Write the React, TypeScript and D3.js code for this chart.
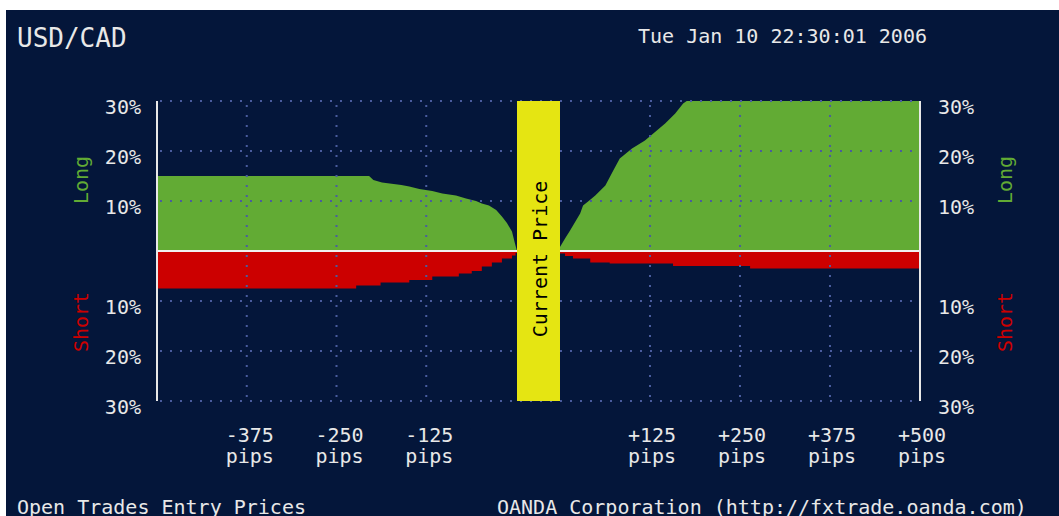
import React from "react";
import * as d3 from "d3";

// ---- data ----
const pair = "USD/CAD";
const timestamp = "Tue Jan 10 22:30:01 2006";
const footerLeft = "Open Trades Entry Prices";
const footerRight = "OANDA Corporation (http://fxtrade.oanda.com)";

// left side (below current price): [pips, percent]
const longLeft: [number, number][] = [
  [-500, 15.0], [-206, 15.0], [-200, 14.2], [-188, 13.7], [-161, 13.2], [-150, 12.9],
  [-136, 12.4], [-118, 12.0], [-104, 11.5], [-85, 11.1], [-71, 10.5], [-57, 10.0],
  [-49, 9.5], [-39, 9.1], [-29, 8.2], [-21, 6.9], [-14, 5.6], [-7, 3.9], [-3, 1.6], [0, 0],
];
const shortLeft: [number, number][] = [
  [-500, 7.5], [-224, 6.9], [-190, 6.3], [-150, 5.8], [-118, 5.1], [-81, 4.5],
  [-63, 4.0], [-49, 3.1], [-35, 2.3], [-21, 1.5], [-7, 0.9], [-2, 0.4], [0, 0.4],
];
// right side (above current price)
const longRight: [number, number][] = [
  [0, 0.8], [7, 2.5], [14, 4.1], [21, 5.8], [28, 7.5], [32, 9.1], [39, 9.9], [49, 11.1],
  [63, 13.1], [74, 16.1], [83, 18.5], [100, 20.5], [118, 22.1], [132, 23.8], [146, 25.5],
  [160, 27.5], [171, 29.5], [176, 30], [500, 30],
];
const shortRight: [number, number][] = [
  [0, 0.5], [7, 1.0], [18, 1.5], [42, 2.3], [69, 2.5], [157, 3.0], [264, 3.5], [500, 3.5],
];

const yTicks = [30, 20, 10, -10, -20, -30];
const leftPipTicks = [-375, -250, -125];
const rightPipTicks = [125, 250, 375, 500];

// ---- layout ----
const W = 1059, H = 516;
const BG = "#04163a";
const GREEN = "#62ab34";
const RED = "#cc0000";
const YELLOW = "#e5e512";
const GRID = "#4a5c9e";
const FONT = "'DejaVu Sans Mono', 'Liberation Mono', monospace";

const xL = d3.scaleLinear().domain([-500, 0]).range([158, 517]);
const xR = d3.scaleLinear().domain([0, 500]).range([560, 920]);
const y = d3.scaleLinear().domain([-30, 30]).range([401, 101]);

export default function App() {
  const longAreaL = d3.area<[number, number]>().x(d => xL(d[0])).y0(y(0)).y1(d => y(d[1])).curve(d3.curveLinear);
  const shortAreaL = d3.area<[number, number]>().x(d => xL(d[0])).y0(y(0)).y1(d => y(-d[1])).curve(d3.curveStepAfter);
  const longAreaR = d3.area<[number, number]>().x(d => xR(d[0])).y0(y(0)).y1(d => y(d[1])).curve(d3.curveLinear);
  const shortAreaR = d3.area<[number, number]>().x(d => xR(d[0])).y0(y(0)).y1(d => y(-d[1])).curve(d3.curveStepAfter);

  const plotL = xL(-500) - 1;
  const plotR = xR(500);

  return (
    <svg width={W} height={H} style={{ position: "absolute", left: 0, top: 0 }} fontFamily={FONT}>
      <rect x={0} y={0} width={W} height={H} fill="#ffffff" />
      <rect x={6} y={10} width={W - 6} height={H - 10} fill={BG} />

      <text x={17} y={47} fill="#e8e8e8" fontSize={26}>{pair}</text>
      <text x={638} y={43} fill="#e8e8e8" fontSize={20}>{timestamp}</text>

      {/* areas */}
      <path d={longAreaL(longLeft) ?? ""} fill={GREEN} />
      <path d={shortAreaL(shortLeft) ?? ""} fill={RED} />
      <path d={longAreaR(longRight) ?? ""} fill={GREEN} />
      <path d={shortAreaR(shortRight) ?? ""} fill={RED} />

      {/* horizontal dotted grid */}
      {yTicks.map(t => (
        <line key={"h" + t} x1={plotL + 3} x2={plotR - 2} y1={y(t)} y2={y(t)}
          stroke={GRID} strokeWidth={2} strokeDasharray="2 8" />
      ))}
      {/* vertical dotted grid */}
      {leftPipTicks.map(p => (
        <line key={"vl" + p} x1={xL(p) - 1} x2={xL(p) - 1} y1={y(30) + 4} y2={y(-30)}
          stroke={GRID} strokeWidth={2} strokeDasharray="2 8" />
      ))}
      {rightPipTicks.filter(p => p !== 500).map(p => (
        <line key={"vr" + p} x1={xR(p)} x2={xR(p)} y1={y(30) + 4} y2={y(-30)}
          stroke={GRID} strokeWidth={2} strokeDasharray="2 8" />
      ))}

      {/* zero line & axes */}
      <line x1={plotL} x2={plotR} y1={y(0)} y2={y(0)} stroke="#f0f0f0" strokeWidth={2} />
      <line x1={plotL} x2={plotL} y1={y(30)} y2={y(-30)} stroke="#e8e8e8" strokeWidth={2} />
      <line x1={plotR} x2={plotR} y1={y(30)} y2={y(-30)} stroke="#e8e8e8" strokeWidth={2} />

      {/* current price band */}
      <rect x={xL(0)} y={y(30)} width={xR(0) - xL(0)} height={y(-30) - y(30)} fill={YELLOW} />
      <text transform={`translate(${(xL(0) + xR(0)) / 2 + 1},${259}) rotate(-90)`} textAnchor="middle"
        dominantBaseline="central" fill="#000" fontSize={20}>Current Price</text>

      {/* y tick labels */}
      {yTicks.map(t => (
        <g key={"yl" + t}>
          <text x={141} y={y(t) + 6} textAnchor="end" dominantBaseline="central" fill="#e8e8e8" fontSize={20}>{Math.abs(t)}%</text>
          <text x={938} y={y(t) + 6} textAnchor="start" dominantBaseline="central" fill="#e8e8e8" fontSize={20}>{Math.abs(t)}%</text>
        </g>
      ))}

      {/* side labels */}
      <text transform={`translate(81,180) rotate(-90)`} textAnchor="middle" dominantBaseline="central" fill={GREEN} fontSize={20}>Long</text>
      <text transform={`translate(81,322) rotate(-90)`} textAnchor="middle" dominantBaseline="central" fill={RED} fontSize={20}>Short</text>
      <text transform={`translate(1005,180) rotate(-90)`} textAnchor="middle" dominantBaseline="central" fill={GREEN} fontSize={20}>Long</text>
      <text transform={`translate(1005,322) rotate(-90)`} textAnchor="middle" dominantBaseline="central" fill={RED} fontSize={20}>Short</text>

      {/* x tick labels */}
      {leftPipTicks.map(p => (
        <g key={"xl" + p}>
          <text x={xL(p) + 2} y={435} textAnchor="middle" dominantBaseline="central" fill="#e8e8e8" fontSize={20}>{String(p)}</text>
          <text x={xL(p) + 2} y={456} textAnchor="middle" dominantBaseline="central" fill="#e8e8e8" fontSize={20}>pips</text>
        </g>
      ))}
      {rightPipTicks.map(p => (
        <g key={"xr" + p}>
          <text x={xR(p) + 2} y={435} textAnchor="middle" dominantBaseline="central" fill="#e8e8e8" fontSize={20}>{"+" + p}</text>
          <text x={xR(p) + 2} y={456} textAnchor="middle" dominantBaseline="central" fill="#e8e8e8" fontSize={20}>pips</text>
        </g>
      ))}

      <text x={17} y={514} fill="#e8e8e8" fontSize={20}>{footerLeft}</text>
      <text x={497} y={514} fill="#e8e8e8" fontSize={20}>{footerRight}</text>
    </svg>
  );
}
